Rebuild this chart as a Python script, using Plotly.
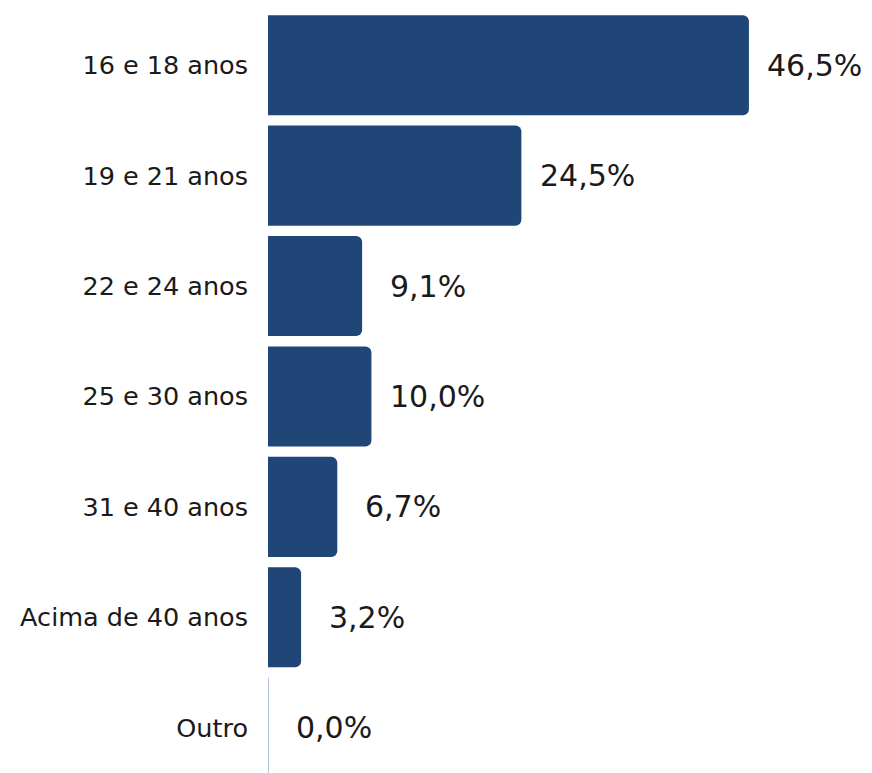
import plotly.graph_objects as go

categories = ["16 e 18 anos", "19 e 21 anos", "22 e 24 anos", "25 e 30 anos",
              "31 e 40 anos", "Acima de 40 anos", "Outro"]
values = [46.5, 24.5, 9.1, 10.0, 6.7, 3.2, 0.0]
value_labels = ["46,5%", "24,5%", "9,1%", "10,0%", "6,7%", "3,2%", "0,0%"]

BAR = "#1f4676"
LINE = "#9fb4d2"
FONT = "DejaVu Sans"
TXT = "#1a1a1a"

idx = list(range(len(categories)))

fig = go.Figure(go.Bar(
    x=values, y=idx, orientation="h",
    marker=dict(color=BAR, cornerradius=6, line=dict(width=0)),
    hoverinfo="skip",
))

for i, (v, lab) in enumerate(zip(values, value_labels)):
    fig.add_annotation(x=v, y=i, text=lab, showarrow=False, xanchor="center",
                       xshift=66, font=dict(family=FONT, size=30, color=TXT))
    if v == 0:
        fig.add_shape(type="line", x0=0, x1=0, y0=i - 0.453, y1=i + 0.453,
                      xref="x", yref="y", line=dict(color=LINE, width=1.6))

# page body has an 8px margin: size the figure so it fills the window exactly
fig.update_layout(
    width=864, height=765,
    margin=dict(l=260, r=0, t=2, b=0),
    paper_bgcolor="white", plot_bgcolor="white",
    bargap=0.094, showlegend=False,
    font=dict(family=FONT, color=TXT),
)
fig.update_xaxes(range=[0, 58.4], visible=False, fixedrange=True)
fig.update_yaxes(range=[6.41, -0.5], tickvals=idx, ticktext=categories,
                 showgrid=False, zeroline=False, showline=False,
                 ticks="", ticklabelstandoff=19,
                 tickfont=dict(family=FONT, size=25.5, color=TXT))

fig.write_html("out.html")
